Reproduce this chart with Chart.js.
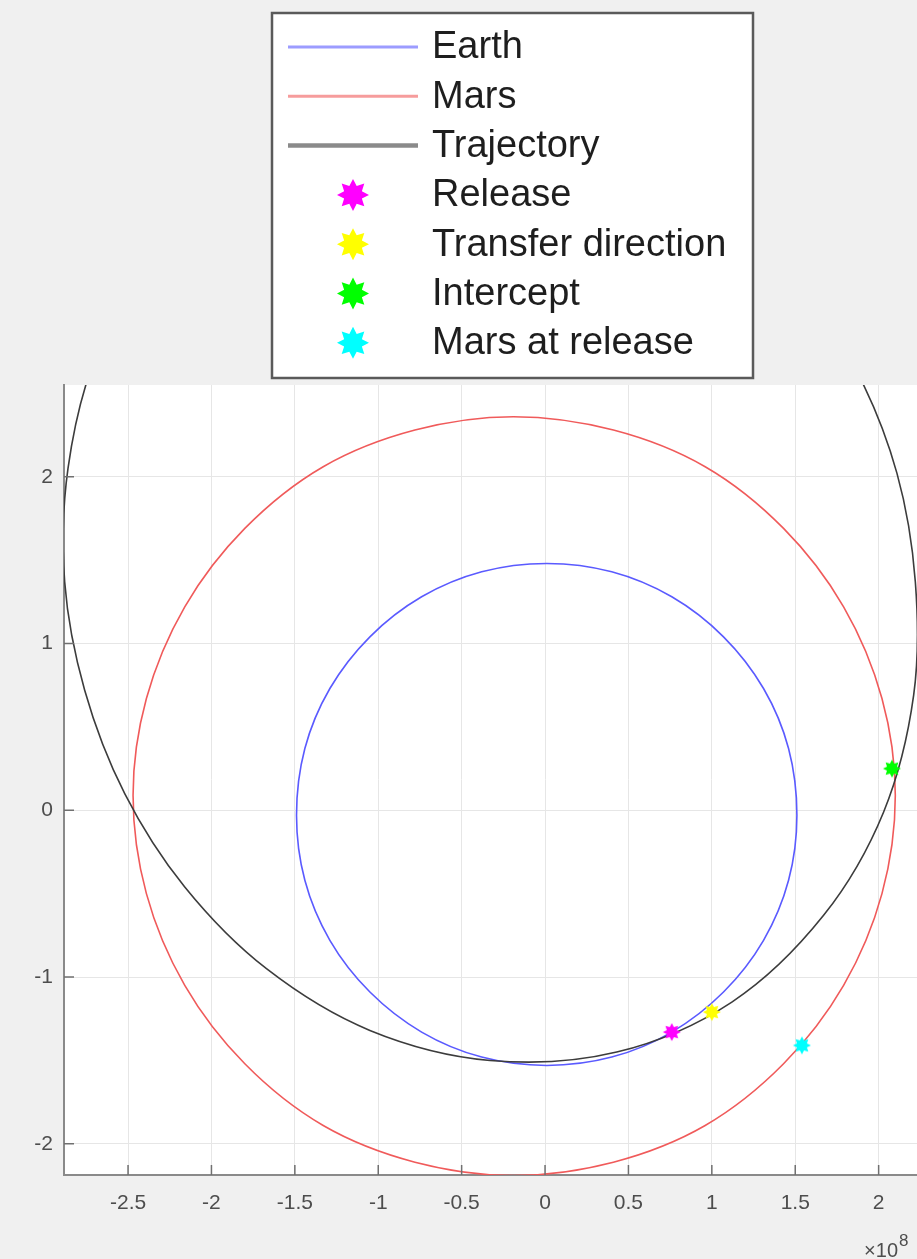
<!DOCTYPE html>
<html>
<head>
<meta charset="utf-8">
<script src="https://cdn.jsdelivr.net/npm/chart.js@4/dist/chart.umd.min.js"></script>
<style>
  html, body { margin: 0; padding: 0; background: #f0f0f0; }
  #wrap { width: 917px; height: 1259px; }
</style>
</head>
<body>
<div id="wrap"><canvas id="orbits" width="917" height="1259"></canvas></div>
<script>
// positions in units of 1e8 km
var earthX = [1.51, 1.46, 1.31, 1.07, 0.76, 0.40, 0.01, -0.38, -0.74, -1.05, -1.29, -1.44,
              -1.49, -1.44, -1.29, -1.05, -0.74, -0.38, 0.01, 0.40, 0.76, 1.07, 1.31, 1.46];
var earthY = [-0.03, 0.37, 0.73, 1.04, 1.28, 1.43, 1.48, 1.43, 1.28, 1.04, 0.73, 0.37,
              -0.03, -0.42, -0.78, -1.09, -1.33, -1.48, -1.53, -1.48, -1.33, -1.09, -0.78, -0.42];

var marsX = [2.10, 2.02, 1.79, 1.43, 0.96, 0.41, -0.19, -0.78, -1.33, -1.80, -2.16, -2.39,
             -2.47, -2.39, -2.16, -1.80, -1.33, -0.78, -0.19, 0.41, 0.96, 1.43, 1.79, 2.02];
var marsY = [0.09, 0.67, 1.22, 1.69, 2.06, 2.28, 2.36, 2.28, 2.06, 1.69, 1.22, 0.67,
             0.09, -0.50, -1.05, -1.52, -1.89, -2.11, -2.19, -2.11, -1.89, -1.52, -1.05, -0.50];

// transfer orbit; the top part runs above the axes and is clipped
var trajX = [-0.33, -1.08, -1.78, -2.33, -2.69, -2.86, -2.88, -2.76, -2.52, -2.16, -1.67, -1.05,
             -0.33, 0.43, 1.12, 1.67, 2.03, 2.21, 2.22, 2.11, 1.87, 1.50, 1.01, 0.39];
var trajY = [4.24, 4.19, 3.88, 3.37, 2.73, 2.05, 1.37, 0.72, 0.10, -0.46, -0.95, -1.32,
             -1.50, -1.45, -1.15, -0.63, -0.01, 0.69, 1.37, 2.02, 2.63, 3.20, 3.68, 4.05];

var markerNames = ['Release', 'Transfer direction', 'Intercept', 'Mars at release'];
var markerX = [0.76, 1.00, 2.08, 1.54];
var markerY = [-1.33, -1.21, 0.25, -1.41];

var xTicks = [-2.5, -2, -1.5, -1, -0.5, 0, 0.5, 1, 1.5, 2];
var yTicks = [-2, -1, 0, 1, 2];

var markerColors = ['#ff00ff', '#ffff00', '#00ff00', '#00ffff'];

function toPoints(xs, ys) {
  return xs.map(function (x, i) { return { x: x, y: ys[i] }; });
}

function starPath(ctx, cx, cy, r) {
  ctx.beginPath();
  for (var i = 0; i < 16; i++) {
    var a = Math.PI * i / 8 - Math.PI / 2;
    var rr = i % 2 ? r * 0.6 : r;
    var px = cx + rr * Math.cos(a), py = cy + rr * Math.sin(a);
    if (i === 0) ctx.moveTo(px, py); else ctx.lineTo(px, py);
  }
  ctx.closePath();
}

function makeStar(color, r) {
  var c = document.createElement('canvas');
  c.width = c.height = Math.ceil(2 * r + 2);
  var g = c.getContext('2d');
  starPath(g, c.width / 2, c.height / 2, r);
  g.fillStyle = color;
  g.fill();
  return c;
}

var orbitStyle = { pointRadius: 0, borderWidth: 1.6, tension: 0.34, fill: false };

var datasets = markerNames.map(function (name, i) {
  return {
    label: name,
    data: [{ x: markerX[i], y: markerY[i] }],
    showLine: false,
    pointStyle: makeStar(markerColors[i], 9),
    pointRadius: 9,
    order: 0,
    isMarker: true,
    markerColor: markerColors[i]
  };
});

datasets.unshift(
  Object.assign({ label: 'Earth', data: toPoints(earthX, earthY), borderColor: '#5a5aff', order: 3 }, orbitStyle),
  Object.assign({ label: 'Mars', data: toPoints(marsX, marsY), borderColor: '#f05a5a', order: 2 }, orbitStyle),
  Object.assign({ label: 'Trajectory', data: toPoints(trajX, trajY), borderColor: '#3c3c3c', order: 1 }, orbitStyle)
);

// the orbits are closed curves: tell the line element to loop back smoothly
var closedLoops = {
  id: 'closedLoops',
  afterDatasetUpdate: function (chart, args) {
    var ds = chart.data.datasets[args.index];
    if (!ds.isMarker && args.meta.dataset) {
      args.meta.dataset._loop = true;
      args.meta.dataset._fullLoop = true;
    }
  }
};

var figureDecor = {
  id: 'figureDecor',
  beforeDraw: function (chart) {
    var ctx = chart.ctx, a = chart.chartArea;
    ctx.save();
    ctx.fillStyle = '#f0f0f0';
    ctx.fillRect(0, 0, chart.width, chart.height);
    ctx.fillStyle = '#ffffff';
    ctx.fillRect(a.left, a.top, a.right - a.left, a.bottom - a.top);
    ctx.restore();
  },
  afterDraw: function (chart) {
    var ctx = chart.ctx, a = chart.chartArea;
    var sx = chart.scales.x, sy = chart.scales.y;
    ctx.save();

    // inward tick marks
    ctx.strokeStyle = '#707070';
    ctx.lineWidth = 1.5;
    ctx.beginPath();
    xTicks.forEach(function (v) {
      var px = sx.getPixelForValue(v);
      ctx.moveTo(px, a.bottom);
      ctx.lineTo(px, a.bottom - 10);
    });
    yTicks.forEach(function (v) {
      var py = sy.getPixelForValue(v);
      ctx.moveTo(a.left, py);
      ctx.lineTo(a.left + 10, py);
    });
    ctx.stroke();

    // x10^8 exponent label
    ctx.fillStyle = '#4d4d4d';
    ctx.textBaseline = 'alphabetic';
    ctx.textAlign = 'right';
    ctx.font = '20px "Liberation Sans", Arial, sans-serif';
    ctx.fillText('\u00d710', 898, 1257);
    ctx.textAlign = 'left';
    ctx.font = '17px "Liberation Sans", Arial, sans-serif';
    ctx.fillText('8', 899, 1246);

    // legend box
    var box = { left: 272, top: 13, right: 753, bottom: 378 };
    ctx.fillStyle = '#ffffff';
    ctx.fillRect(box.left, box.top, box.right - box.left, box.bottom - box.top);
    ctx.strokeStyle = '#5a5a5a';
    ctx.lineWidth = 2.5;
    ctx.strokeRect(box.left, box.top, box.right - box.left, box.bottom - box.top);

    var rowTop = 47, rowGap = 49.3;
    ctx.font = '38px "Liberation Sans", Arial, sans-serif';
    ctx.textBaseline = 'middle';
    ctx.textAlign = 'left';
    chart.data.datasets.forEach(function (ds, i) {
      var y = rowTop + i * rowGap;
      if (ds.isMarker) {
        starPath(ctx, 353, y, 16);
        ctx.fillStyle = ds.markerColor;
        ctx.fill();
      } else {
        ctx.globalAlpha = 0.6;
        ctx.strokeStyle = ds.borderColor;
        ctx.lineWidth = i === 2 ? 4.5 : 3;
        ctx.beginPath();
        ctx.moveTo(288, y);
        ctx.lineTo(418, y);
        ctx.stroke();
        ctx.globalAlpha = 1;
      }
      ctx.fillStyle = '#1e1e1e';
      ctx.fillText(ds.label, 432, y + 1);
    });
    ctx.restore();
  }
};

var tickFont = { family: '"Liberation Sans", Arial, sans-serif', size: 21 };

new Chart(document.getElementById('orbits').getContext('2d'), {
  type: 'line',
  data: { datasets: datasets },
  options: {
    responsive: false,
    animation: false,
    events: [],
    devicePixelRatio: 1,
    layout: { autoPadding: false, padding: { top: 385, right: 0, left: 0, bottom: 0 } },
    elements: { line: { capBezierPoints: false } },
    plugins: {
      legend: { display: false },
      tooltip: { enabled: false }
    },
    scales: {
      x: {
        type: 'linear',
        min: -2.884,
        max: 2.23,
        afterBuildTicks: function (s) { s.ticks = xTicks.map(function (v) { return { value: v }; }); },
        afterFit: function (s) { s.height = 84; s.paddingLeft = 0; s.paddingRight = 0; },
        grid: { color: '#e6e6e6', lineWidth: 1, drawTicks: false },
        border: { display: true, color: '#8a8a8a', width: 2 },
        ticks: { font: tickFont, color: '#4d4d4d', padding: 16, maxRotation: 0, callback: function (v) { return String(v); } }
      },
      y: {
        type: 'linear',
        min: -2.187,
        max: 2.55,
        afterBuildTicks: function (s) { s.ticks = yTicks.map(function (v) { return { value: v }; }); },
        afterFit: function (s) { s.width = 64; s.paddingTop = 0; s.paddingBottom = 0; },
        grid: { color: '#e6e6e6', lineWidth: 1, drawTicks: false },
        border: { display: true, color: '#8a8a8a', width: 2 },
        ticks: { font: tickFont, color: '#4d4d4d', padding: 11, callback: function (v) { return String(v); } }
      }
    }
  },
  plugins: [closedLoops, figureDecor]
});
</script>
</body>
</html>
